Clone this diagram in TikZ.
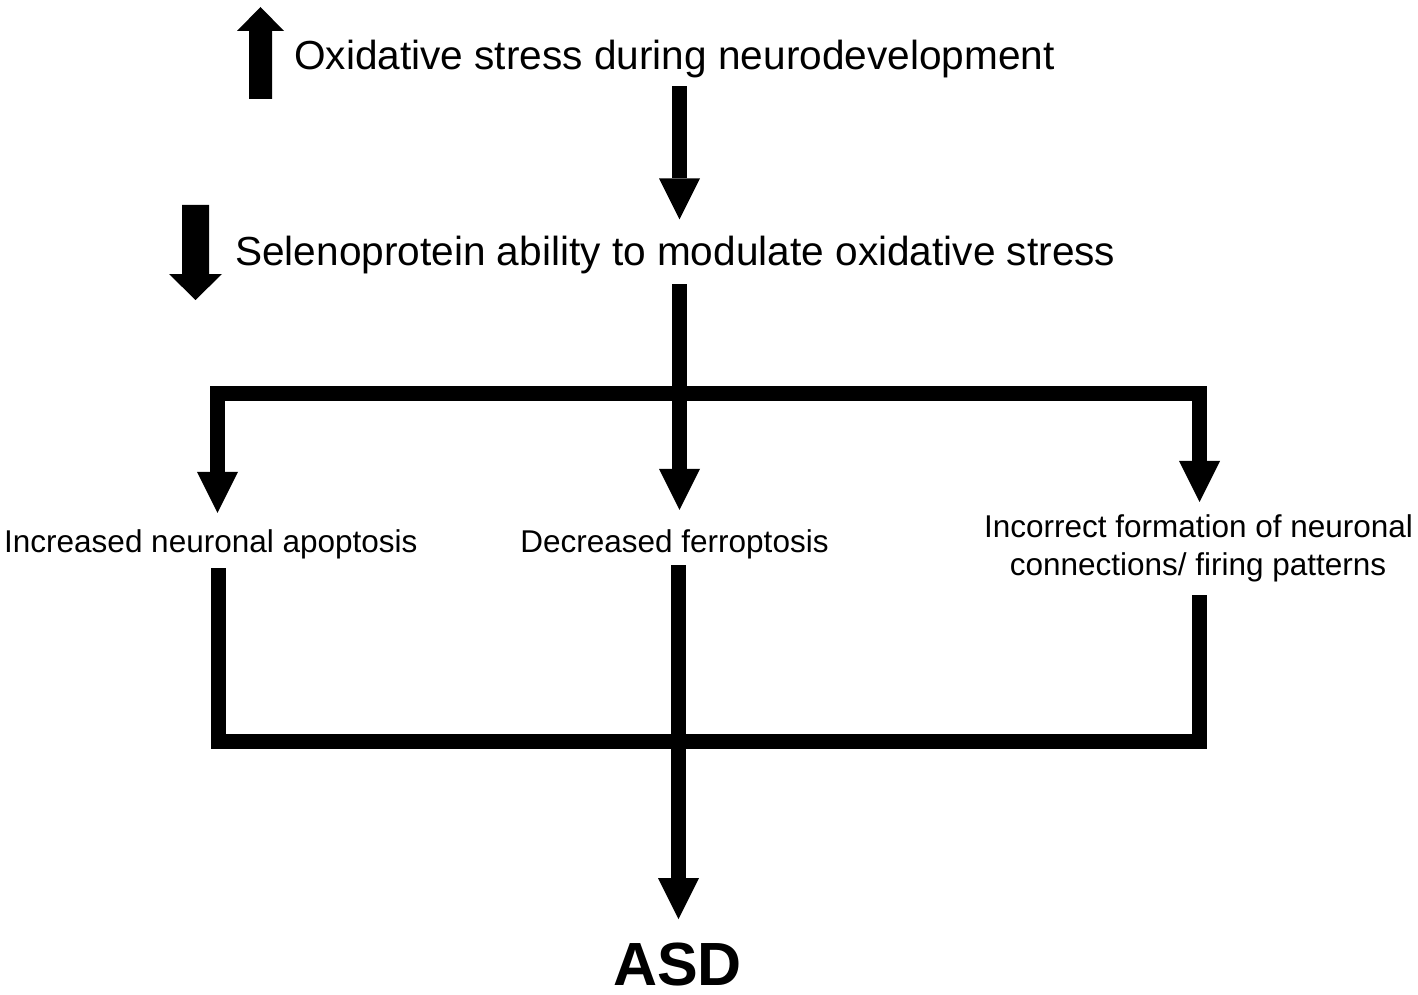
\documentclass[tikz,border=0pt]{standalone}
\usepackage{fontspec}
\setmainfont{Liberation Sans}
\usetikzlibrary{arrows.meta}
\begin{document}
\begin{tikzpicture}[x=1pt,y=-1pt,
  >={Triangle[length=41pt,width=41pt,line width=0pt]},
  big/.style={inner sep=0pt, font=\fontsize{40.6}{48}\selectfont},
  small/.style={inner sep=0pt, font=\fontsize{31.5}{38}\selectfont},
  bar/.style={line width=15pt, line join=miter},
  conn/.style={bar, ->},
  icon/.style={fill=black}]
\useasboundingbox (0,0) rectangle (1418,995);
% texts
\node[big, anchor=base west] (top) at (294,70) {Oxidative stress during neurodevelopment};
\node[big, anchor=base west] (sel) at (235,265) {Selenoprotein ability to modulate oxidative stress};
\node[small, anchor=base west] (apo) at (4,552) {Increased neuronal apoptosis};
\node[small, anchor=base] (fer) at (674.5,552) {Decreased ferroptosis};
\node[small, anchor=base] (inc) at (1198.5,537) {Incorrect formation of neuronal};
\node[small, anchor=base] (inc2) at (1198,575) {connections/ firing patterns};
\node[inner sep=0pt, anchor=base, font=\bfseries\fontsize{61}{70}\selectfont] (asd) at (677.5,985.5) {ASD};
% axes
\coordinate (axis) at (679.5,0);
\coordinate (axisb) at (678.5,0);
\coordinate (lx) at (217.5,0);
\coordinate (lxb) at (218.5,0);
\coordinate (rx) at (1199.5,0);
\coordinate (topbar) at (0,393);
\coordinate (lowbar) at (0,741);
% icons
\fill[icon] (249,99) -- (249,31) -- (237,31) -- (260.5,7) -- (284,31) -- (272,31) -- (272,99) -- cycle;
\fill[icon] (182,205) -- (209,205) -- (209,274) -- (222,274) -- (195.5,300) -- (169,274) -- (182,274) -- cycle;
% connectors
\draw[conn] ([yshift=-7.5pt]top.south -| axis) -- ([yshift=16pt]sel.north -| axis);
\draw[bar, <->] ([yshift=16pt]apo.north -| lx) -- (topbar -| lx) -- (topbar -| rx) -- ([yshift=12pt]inc.north -| rx);
\draw[conn] ([yshift=-10.6pt]sel.south -| axis) -- ([yshift=19pt]fer.north -| axis);
\draw[bar] ([yshift=-9.4pt]apo.south -| lxb) -- (lowbar -| lxb) -- (lowbar -| rx) -- ([yshift=-13.4pt]inc2.south -| rx);
\draw[conn] ([yshift=-6.4pt]fer.south -| axisb) -- ([yshift=23.5pt]asd.north -| axisb);
\end{tikzpicture}
\end{document}
